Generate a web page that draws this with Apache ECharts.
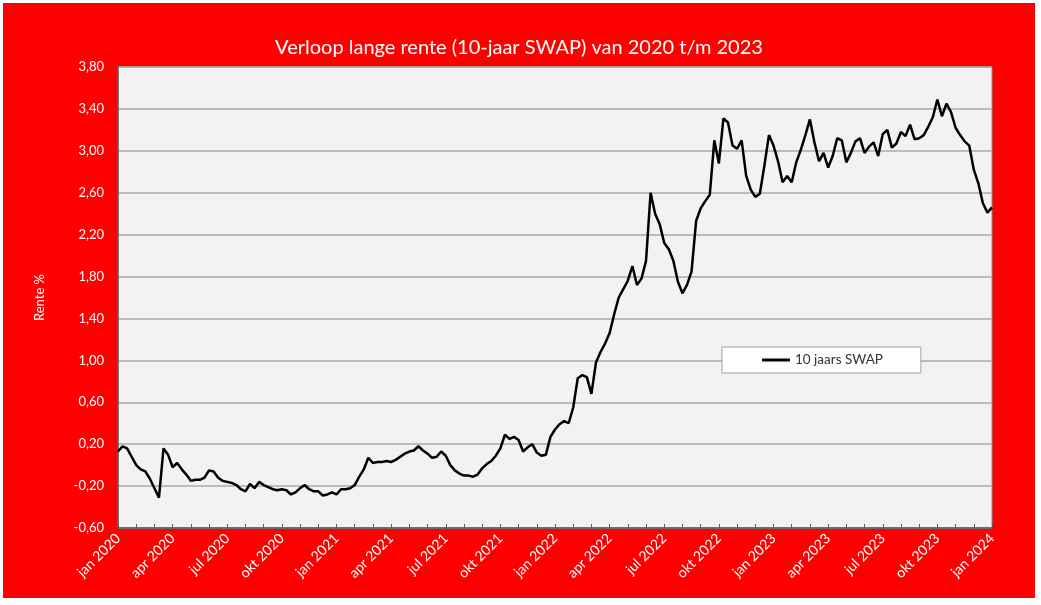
<!DOCTYPE html>
<html><head><meta charset="utf-8">
<script src="https://cdn.jsdelivr.net/npm/echarts@6/dist/echarts.min.js"></script>
<style>
html,body{margin:0;padding:0;background:#fff;width:1041px;height:605px;overflow:hidden}
#c{position:absolute;left:3px;top:3px;width:1032px;height:595px;background:#ff0000}
</style>
</head><body><div id="c"></div>
<script>
const chartTitle = 'Verloop lange rente (10-jaar SWAP) van 2020 t/m 2023';
const seriesName = '10 jaars SWAP';
const yAxisName = 'Rente %';
const quarterLabels = ['jan 2020','apr 2020','jul 2020','okt 2020','jan 2021','apr 2021','jul 2021','okt 2021',
  'jan 2022','apr 2022','jul 2022','okt 2022','jan 2023','apr 2023','jul 2023','okt 2023','jan 2024'];
const pointsPerMonth = 4; // sample spacing along the month axis
const swap10 = [
  0.13, 0.18, 0.16, 0.08, 0.00, -0.04, -0.06, -0.13, -0.22, -0.31,
  0.16, 0.10, -0.02, 0.02, -0.04, -0.09, -0.15, -0.14, -0.14, -0.12,
  -0.05, -0.06, -0.12, -0.15, -0.16, -0.17, -0.19, -0.23, -0.25, -0.18,
  -0.22, -0.16, -0.19, -0.21, -0.23, -0.24, -0.23, -0.24, -0.28, -0.26,
  -0.22, -0.19, -0.23, -0.25, -0.25, -0.29, -0.28, -0.26, -0.28, -0.23,
  -0.23, -0.22, -0.19, -0.11, -0.04, 0.07, 0.02, 0.03, 0.03, 0.04,
  0.03, 0.05, 0.08, 0.11, 0.13, 0.14, 0.18, 0.14, 0.11, 0.07,
  0.08, 0.13, 0.09, 0.00, -0.05, -0.08, -0.10, -0.10, -0.11, -0.09,
  -0.03, 0.01, 0.04, 0.09, 0.16, 0.29, 0.25, 0.27, 0.24, 0.13,
  0.17, 0.20, 0.12, 0.09, 0.10, 0.27, 0.34, 0.39, 0.42, 0.40,
  0.55, 0.83, 0.86, 0.84, 0.68, 0.98, 1.08, 1.16, 1.26, 1.44,
  1.60, 1.68, 1.76, 1.90, 1.72, 1.78, 1.95, 2.60, 2.40, 2.30,
  2.12, 2.06, 1.95, 1.75, 1.64, 1.72, 1.85, 2.33, 2.45, 2.52,
  2.58, 3.10, 2.88, 3.31, 3.27, 3.05, 3.02, 3.10, 2.76, 2.63,
  2.56, 2.59, 2.86, 3.15, 3.05, 2.90, 2.70, 2.76, 2.70, 2.89,
  3.01, 3.15, 3.30, 3.08, 2.90, 2.98, 2.84, 2.95, 3.12, 3.10,
  2.89, 2.98, 3.09, 3.12, 2.98, 3.04, 3.08, 2.95, 3.16, 3.20,
  3.03, 3.07, 3.18, 3.14, 3.25, 3.11, 3.12, 3.15, 3.23, 3.32,
  3.49, 3.33, 3.45, 3.37, 3.22, 3.15, 3.09, 3.05, 2.82, 2.69,
  2.50, 2.41, 2.46
];
const yMin = -0.6, yMax = 3.8, yStep = 0.4;

const data = swap10.map((v, i) => [i / pointsPerMonth, v]);
const FONT = 'Lato';
const chart = echarts.init(document.getElementById('c'));
chart.setOption({
  animation: false,
  textStyle: { fontFamily: FONT },
  title: {
    text: chartTitle, left: 'center', top: 35, padding: 0,
    textStyle: { color: '#ffffff', fontSize: 20, fontWeight: 'normal', fontFamily: FONT }
  },
  legend: {
    left: 719, top: 344,
    backgroundColor: '#ffffff', borderColor: '#a0a0a0', borderWidth: 1,
    padding: [6, 38, 6, 40],
    icon: 'rect', itemWidth: 28, itemHeight: 3, itemGap: 0,
    textStyle: { color: '#333333', fontSize: 13.5, fontFamily: FONT, padding: [0, 0, 0, 0] },
    data: [seriesName]
  },
  grid: {
    left: 115, top: 64, width: 874, height: 461,
    show: true, backgroundColor: '#f2f2f2', borderColor: '#8c8c8c', borderWidth: 1
  },
  xAxis: {
    type: 'value', min: 0, max: (quarterLabels.length - 1) * 3, interval: 3,
    axisLine: { show: true, onZero: false, lineStyle: { color: '#5a5a5a', width: 1.5 } },
    axisTick: { show: true, inside: true, length: 4, lineStyle: { color: '#5a5a5a' } },
    minorTick: { show: true, splitNumber: 3, length: 4, lineStyle: { color: '#5a5a5a' } },
    splitLine: { show: false },
    axisLabel: {
      color: '#ffffff', fontSize: 14, rotate: 45, margin: 8, fontFamily: FONT,
      formatter: v => quarterLabels[Math.round(v / 3)] || ''
    }
  },
  yAxis: {
    type: 'value', min: yMin, max: yMax, interval: yStep,
    name: yAxisName, nameLocation: 'middle', nameGap: 72, nameRotate: 90,
    nameTextStyle: { color: '#ffffff', fontSize: 13, fontFamily: FONT },
    axisLine: { show: true, lineStyle: { color: '#5a5a5a', width: 1.5 } },
    axisTick: { show: false },
    splitLine: { show: true, lineStyle: { color: '#aaaaaa', width: 1.6 } },
    axisLabel: {
      color: '#ffffff', fontSize: 13, margin: 14, fontFamily: FONT,
      formatter: v => v.toFixed(2).replace('.', ',')
    }
  },
  series: [{
    name: seriesName, type: 'line', data: data,
    showSymbol: false, symbol: 'none',
    lineStyle: { color: '#000000', width: 2.5 },
    itemStyle: { color: '#000000' }
  }]
});
</script>
</body></html>
